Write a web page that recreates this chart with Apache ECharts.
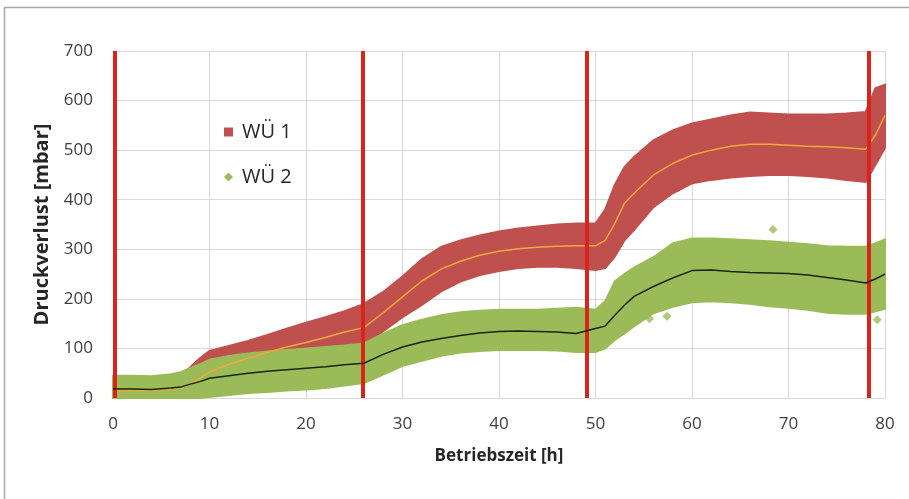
<!DOCTYPE html>
<html>
<head>
<meta charset="utf-8">
<script src="https://cdn.jsdelivr.net/npm/echarts@6/dist/echarts.min.js"></script>
<style>
html,body{margin:0;padding:0;background:#fff;}
#chart{width:909px;height:499px;}
</style>
</head>
<body>
<div id="chart"></div>
<script>
// Betriebszeit [h]
const times = [0,2,4,6,7,8,9,10,12,14,16,18,20,22,24,26,28,30,32,34,36,38,40,42,44,46,48,50,51,52,53,54,56,58,60,62,64,66,68,70,72,74,76,78,79,80];
// WÜ 1 (red band: lower edge, upper edge, moving mean)
const w1Low  = [0,0,0,0,0,5,12,20,30,40,50,62,72,82,92,100,135,163,188,215,235,248,256,262,265,265,262,258,262,285,318,339,385,413,433,440,445,448,450,450,448,445,440,436,470,505];
const w1High = [35,35,35,40,45,62,80,95,105,115,127,140,152,163,175,190,214,245,280,305,318,328,336,342,346,350,352,352,380,430,466,486,520,540,554,562,570,576,574,572,572,572,574,577,625,632];
const w1Mean = [15,15,15,18,20,28,40,52,68,80,92,103,112,122,133,142,172,204,236,260,276,288,296,301,304,306,307,307,318,352,393,413,450,473,490,500,508,512,512,510,508,507,505,502,530,570];
// WÜ 2 (green band: lower edge, upper edge, moving mean)
const w2Low  = [0,0,0,0,0,0,0,2,6,10,12,15,17,20,25,30,47,65,75,85,92,95,97,97,97,96,93,93,100,117,130,145,171,184,193,195,193,190,185,182,178,172,170,170,175,180];
const w2High = [45,45,44,48,52,60,68,77,85,90,94,97,100,103,106,110,130,147,158,167,173,176,178,178,178,180,182,178,195,235,250,263,284,312,322,322,320,318,316,313,310,306,305,305,312,320];
const w2Mean = [18,18,17,20,22,28,33,40,45,50,54,57,60,63,67,70,88,103,113,120,126,131,134,135,134,133,130,140,145,167,187,205,225,242,257,258,255,253,252,251,248,243,238,232,240,250];
// isolated WÜ 2 values outside the band
const w2Outliers = [[68.4,340],[79.2,158],[55.6,160],[57.4,165]];
// red vertical markers
const markerTimes = [0.2, 25.9, 49.1, 78.3];
const xTicks = {min:0, max:80, interval:10};
const yTicks = {min:0, max:700, interval:100};

const FONT = "'Open Sans', 'Noto Sans', sans-serif";
const RED = '#c0504d', GREEN = '#9bbb59';

function band(lowArr, highArr, color) {
  return function (params, api) {
    if (params.dataIndex !== 0) return null;
    const pts = [];
    for (let i = 0; i < times.length; i++) pts.push(api.coord([times[i], highArr[i]]));
    for (let i = times.length - 1; i >= 0; i--) pts.push(api.coord([times[i], lowArr[i]]));
    return {type:'polygon', shape:{points:pts}, style:{fill:color, stroke:color, lineWidth:2, lineJoin:'miter'}};
  };
}
const pairs = (arr) => times.map((t, i) => [t, arr[i]]);

const chart = echarts.init(document.getElementById('chart'));
chart.setOption({
  animation:false,
  backgroundColor:'#fff',
  graphic:[{type:'rect', shape:{x:4.5, y:7.5, width:1000, height:1000}, style:{fill:null, stroke:'#a6a6a6', lineWidth:1.5}, silent:true}],
  grid:{left:113, right:24, top:51, bottom:101},
  legend:{
    orient:'vertical', left:219, top:117, itemGap:25, itemWidth:9, itemHeight:9,
    textStyle:{fontFamily:FONT, fontSize:20, color:'#262626', lineHeight:20, padding:[0,0,0,4]},
    data:[{name:'WÜ 1', icon:'rect'}, {name:'WÜ 2', icon:'diamond'}]
  },
  xAxis:{
    type:'value', min:xTicks.min, max:xTicks.max, interval:xTicks.interval,
    name:'Betriebszeit [h]', nameLocation:'middle', nameGap:50,
    nameTextStyle:{fontFamily:FONT, fontSize:17, fontWeight:'bold', color:'#262626'},
    axisLine:{show:false}, axisTick:{show:false},
    axisLabel:{fontFamily:FONT, fontSize:17, color:'#404040', margin:18},
    splitLine:{show:true, lineStyle:{color:'#d9d9d9', width:1}}
  },
  yAxis:{
    type:'value', min:yTicks.min, max:yTicks.max, interval:yTicks.interval,
    name:'Druckverlust [mbar]', nameLocation:'middle', nameGap:61,
    nameTextStyle:{fontFamily:FONT, fontSize:20, fontWeight:'bold', color:'#262626'},
    axisLine:{show:false}, axisTick:{show:false},
    axisLabel:{fontFamily:FONT, fontSize:17, color:'#404040', margin:20},
    splitLine:{show:true, lineStyle:{color:'#d9d9d9', width:1}}
  },
  series:[
    {name:'WÜ 1', type:'custom', renderItem:band(w1Low, w1High, RED), data:[[times[0], w1High[0]]], itemStyle:{color:RED}, color:RED, z:2, silent:true},
    {name:'WÜ 2', type:'custom', renderItem:band(w2Low, w2High, GREEN), data:[[times[0], w2High[0]]], itemStyle:{color:GREEN}, color:GREEN, z:3, silent:true},
    {name:'WÜ 2 Einzelwerte', type:'scatter', data:w2Outliers, symbol:'diamond', symbolSize:9, itemStyle:{color:GREEN}, z:3, silent:true},
    {name:'WÜ 1 Mittel', type:'line', data:pairs(w1Mean), showSymbol:false, lineStyle:{color:'#f2a93b', width:1.5}, z:4, silent:true},
    {name:'WÜ 2 Mittel', type:'line', data:pairs(w2Mean), showSymbol:false, lineStyle:{color:'#1b2410', width:1.5}, z:5, silent:true,
      markLine:{silent:true, symbol:['none','none'], label:{show:false}, animation:false,
        lineStyle:{color:'#d9231b', width:4, type:'solid'},
        data:markerTimes.map(t => ({xAxis:t}))}
    }
  ]
});
</script>
</body>
</html>
